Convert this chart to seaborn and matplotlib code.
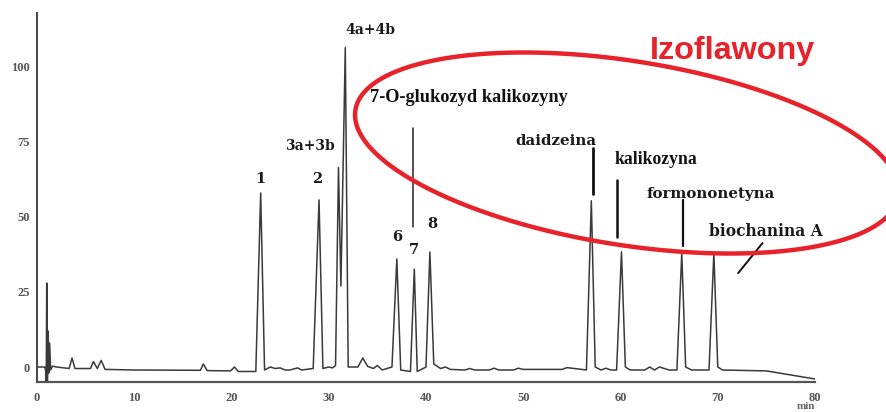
import numpy as np
import pandas as pd
import matplotlib
matplotlib.use("Agg")
import matplotlib.pyplot as plt
import seaborn as sns

# ---- data (time [min], signal) ----
time = [0.0, 0.8, 0.88, 0.95, 1.0, 1.07, 1.15, 1.22, 1.3, 1.4, 1.6, 2.0,
        3.3, 3.6, 3.9, 5.5, 5.8, 6.2, 6.6, 7.0, 10.0,
        16.8, 17.1, 17.5, 19.9, 20.3, 20.7, 22.5, 23.0, 23.4,
        24.0, 24.5, 25.0, 25.5, 26.0, 26.8, 27.2, 28.4, 29.0, 29.4,
        30.0, 30.4, 30.7, 31.0, 31.25, 31.7, 32.0, 33.0, 33.5, 34.0,
        34.6, 35.0, 35.5, 36.0, 36.5, 37.0, 37.4, 38.4, 38.8, 39.1,
        40.0, 40.4, 40.8, 41.5, 42.0, 42.5, 44.0, 44.5, 45.0, 46.5,
        47.0, 47.5, 49.0, 49.5, 50.0, 54.0, 54.5, 56.5, 57.0, 57.4,
        58.0, 58.5, 59.0, 59.6, 60.1, 60.5, 61.0, 62.5, 63.0, 63.5,
        64.0, 64.5, 65.0, 65.8, 66.3, 66.7, 67.3, 69.1, 69.6, 70.0,
        70.5, 75.0, 80.0]
signal = [0.0, 0.0, -1.0, -5.0, 28.0, -5.0, 12.0, -2.0, 8.0, -1.0, 0.3, 0.0,
          -0.5, 3.0, -0.5, -0.5, 1.8, -0.5, 2.2, -0.8, -1.0,
          -1.1, 1.0, -1.2, -1.3, 0.0, -1.5, -1.5, 58.0, -1.0,
          0.0, -0.5, -0.3, -1.0, -1.0, -0.3, -1.0, -0.5, 55.7, -0.5,
          0.0, -0.3, 0.5, 66.5, 27.0, 106.5, 0.0, 0.0, 3.0, 0.2,
          -0.5, 0.5, -1.0, -0.5, 0.0, 36.0, -1.0, -1.5, 32.6, -1.5,
          0.0, 38.3, 1.0, -0.5, 0.0, -0.8, -1.0, -0.5, -1.0, -1.0,
          -0.4, -1.0, -1.0, -0.4, -0.8, -0.8, -0.2, -1.0, 55.4, 0.0,
          -1.0, -0.4, -1.0, -1.0, 38.4, 0.0, -1.0, -1.0, 0.0, -1.0,
          0.0, -0.5, -1.0, -1.0, 38.0, 0.0, -1.0, -1.0, 38.0, 0.0,
          -1.0, -1.3, -4.0]

x_ticks = [0, 10, 20, 30, 40, 50, 60, 70, 80]
y_ticks = [0, 25, 50, 75, 100]

df = pd.DataFrame({"time": time, "signal": signal})

sns.set_style("white")
plt.rcParams["font.family"] = ["Liberation Serif", "DejaVu Serif"]

fig = plt.figure(figsize=(8.86, 4.12), dpi=100)
ax = fig.add_axes([37 / 886, 30 / 412, (815 - 37) / 886, 369 / 412])

sns.lineplot(data=df, x="time", y="signal", ax=ax, color="#3a3a3a",
             linewidth=1.1, estimator=None, sort=False)

ax.set_xlim(0, 80)
ax.set_ylim(-5, 118)
ax.set_xticks(x_ticks)
ax.set_yticks(y_ticks)
ax.set_xticklabels([str(v) for v in x_ticks])
ax.set_yticklabels([str(v) for v in y_ticks])
ax.set_xlabel("")
ax.set_ylabel("")
for s in ["top", "right"]:
    ax.spines[s].set_visible(False)
ax.spines["left"].set_color("#444444")
ax.spines["left"].set_linewidth(1.4)
ax.spines["bottom"].set_color("#555555")
ax.spines["bottom"].set_linewidth(1.6)
ax.tick_params(axis="y", length=3, width=1, color="#444444", pad=2,
               labelsize=9, labelcolor="#555555")
ax.tick_params(axis="x", length=0, pad=7, labelsize=9, labelcolor="#555555")
for lab in ax.get_xticklabels() + ax.get_yticklabels():
    lab.set_fontweight("bold")

ax.text(80, -14.6, "min", ha="right", va="bottom", fontsize=8,
        fontweight="bold", color="#666666", clip_on=False)

# ---- peak labels ----
wide = ["DejaVu Serif"]
lab_kw = dict(fontweight="bold", color="#1a1a1a", ha="center", va="center",
              family=wide)
ax.text(22.95, 62.8, "1", fontsize=10.5, **lab_kw)
ax.text(28.8, 62.8, "2", fontsize=10.5, **lab_kw)
ax.text(28.1, 73.7, "3a+3b", fontsize=10, **lab_kw)
ax.text(34.24, 112.3, "4a+4b", fontsize=10, **lab_kw)
ax.text(37.0, 43.3, "6", fontsize=10.5, **lab_kw)
ax.text(38.75, 39.0, "7", fontsize=10.5, **lab_kw)
ax.text(40.6, 47.7, "8", fontsize=10.5, **lab_kw)
ax.text(34.24, 89.7, "7-O-glukozyd kalikozyny", fontsize=13.2,
        fontweight="bold", color="#111111", ha="left", va="center")
ax.text(53.4, 75.3, "daidzeina", fontsize=10.8, **lab_kw)
ax.text(59.4, 69.0, "kalikozyna", fontsize=12.7, fontweight="bold",
        color="#111111", ha="left", va="center")
ax.text(62.7, 57.7, "formononetyna", fontsize=10.8, fontweight="bold",
        color="#1a1a1a", ha="left", va="center", family=wide)
ax.text(69.1, 45.0, "biochanina A", fontsize=11.2, fontweight="bold",
        color="#1a1a1a", ha="left", va="center", family=wide)

# leader lines
ax.plot([38.66, 38.66], [79.7, 46.7], color="#222222", lw=1.1)
ax.plot([57.2, 57.2], [73.0, 57.7], color="#111111", lw=2.0)
ax.plot([59.6, 59.6], [62.3, 43.3], color="#111111", lw=1.8)
ax.plot([66.4, 66.4], [55.7, 40.3], color="#111111", lw=1.6)
ax.plot([74.6, 72.1], [41.3, 31.3], color="#111111", lw=1.4)

# ---- red highlight ----
red = "#e8222a"
ax.text(63.0, 105.3, "Izoflawony", fontsize=23.3, fontweight="bold",
        family=["Liberation Sans", "DejaVu Sans"], color=red,
        ha="left", va="center")

W, H = 886, 412
cx, cy, a, b, th = 627, 153, 275, 92, np.deg2rad(9)
t = np.linspace(0, 2 * np.pi, 400)
ex = cx + a * np.cos(t) * np.cos(th) - b * np.sin(t) * np.sin(th)
ey = cy + a * np.cos(t) * np.sin(th) + b * np.sin(t) * np.cos(th)
fig.add_artist(plt.Line2D(ex / W, 1 - ey / H, color=red, lw=3.2,
                          transform=fig.transFigure, clip_on=False))

fig.savefig("out.png", dpi=100)
